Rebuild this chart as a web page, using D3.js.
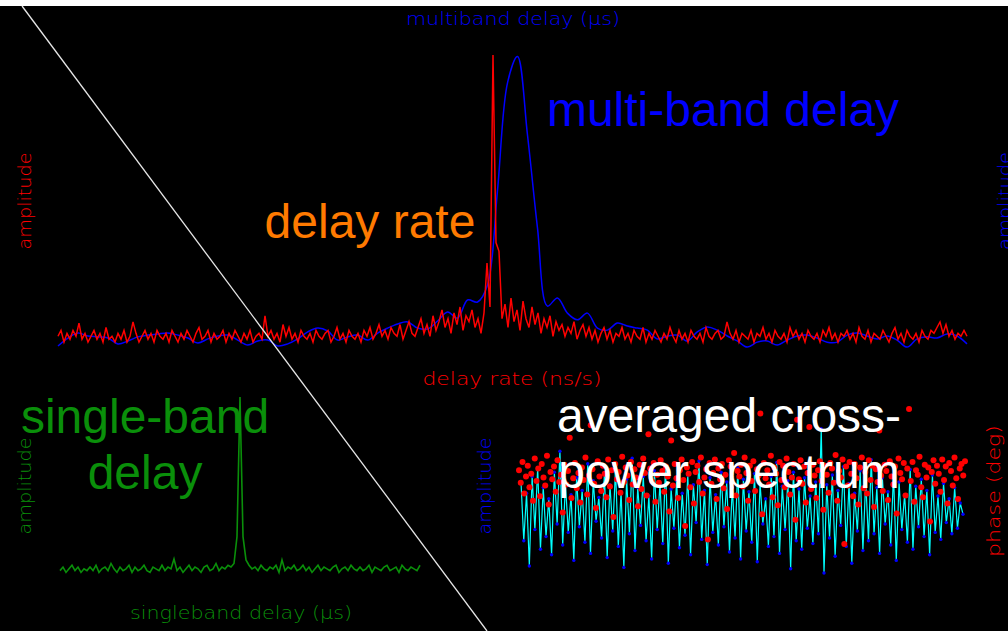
<!DOCTYPE html>
<html>
<head>
<meta charset="utf-8">
<script src="https://cdn.jsdelivr.net/npm/d3@7"></script>
<style>
html, body { margin: 0; padding: 0; background: #000; overflow: hidden; }
</style>
</head>
<body>
<script>
// delay rate amplitude (red), evenly spaced rate bins
var rateAmp = [
  0.04,0.06,0.02,0.05,0.03,0.06,0.04,0.085,0.03,0.05,
  0.02,0.04,0.06,0.03,0.05,0.02,0.07,0.03,0.04,0.02,
  0.05,0.03,0.06,0.02,0.04,0.089,0.05,0.02,0.04,0.06,
  0.03,0.05,0.02,0.06,0.04,0.03,0.05,0.02,0.06,0.04,
  0.02,0.05,0.03,0.06,0.04,0.02,0.05,0.07,0.03,0.04,
  0.06,0.02,0.05,0.03,0.04,0.06,0.02,0.05,0.03,0.06,
  0.04,0.02,0.05,0.03,0.06,0.02,0.04,0.05,0.03,0.11,
  0.04,0.06,0.03,0.05,0.02,0.08,0.04,0.07,0.03,0.05,
  0.02,0.06,0.04,0.03,0.05,0.02,0.06,0.04,0.03,0.05,
  0.06,0.02,0.04,0.07,0.03,0.05,0.02,0.06,0.04,0.03,
  0.05,0.02,0.06,0.04,0.07,0.03,0.05,0.08,0.04,0.06,
  0.03,0.07,0.05,0.04,0.08,0.03,0.06,0.09,0.05,0.04,
  0.07,0.10,0.05,0.08,0.04,0.11,0.06,0.09,0.13,0.07,
  0.10,0.05,0.12,0.08,0.14,0.06,0.11,0.09,0.13,0.07,
  0.10,0.05,0.12,0.29,0.14,1.00,0.36,0.33,0.10,0.15,
  0.07,0.17,0.09,0.13,0.06,0.16,0.10,0.07,0.14,0.08,
  0.12,0.05,0.10,0.07,0.11,0.04,0.09,0.06,0.08,0.04,
  0.07,0.05,0.09,0.03,0.06,0.08,0.04,0.07,0.03,0.06,
  0.02,0.05,0.07,0.03,0.06,0.02,0.05,0.04,0.07,0.03,
  0.05,0.02,0.06,0.04,0.03,0.07,0.02,0.05,0.03,0.06,
  0.04,0.02,0.05,0.03,0.07,0.04,0.02,0.06,0.03,0.05,
  0.02,0.06,0.04,0.03,0.05,0.02,0.07,0.04,0.03,0.05,
  0.06,0.03,0.04,0.089,0.05,0.03,0.06,0.02,0.05,0.04,
  0.03,0.06,0.02,0.05,0.04,0.07,0.03,0.05,0.02,0.06,
  0.04,0.03,0.05,0.02,0.07,0.04,0.06,0.03,0.05,0.02,
  0.06,0.04,0.03,0.05,0.02,0.06,0.04,0.07,0.03,0.05,
  0.02,0.05,0.04,0.06,0.03,0.05,0.02,0.07,0.04,0.03,
  0.06,0.02,0.05,0.04,0.03,0.06,0.04,0.02,0.05,0.07,
  0.03,0.05,0.02,0.06,0.04,0.03,0.05,0.02,0.06,0.04,
  0.03,0.06,0.05,0.07,0.089,0.05,0.08,0.04,0.06,0.03,
  0.05,0.04,0.06,0.04
];

// multiband delay amplitude (blue)
var mbdAmp = [
  0.007,0.034,0.051,0.041,0.038,0.034,0.014,0.024,0.038,0.044,
  0.048,0.051,0.044,0.034,0.017,0.031,0.041,0.044,0.027,0.010,
  0.024,0.027,0.007,0.014,0.031,0.055,0.068,0.058,0.027,0.038,
  0.044,0.027,0.051,0.068,0.082,0.089,0.068,0.065,0.092,0.123,
  0.102,0.164,0.157,0.215,0.539,0.905,0.995,0.727,0.410,0.143,
  0.171,0.119,0.096,0.119,0.068,0.061,0.085,0.075,0.068,0.061,
  0.031,0.041,0.044,0.024,0.055,0.072,0.061,0.041,0.024,0.003,
  0.020,0.024,0.010,0.027,0.041,0.044,0.034,0.020,0.020,0.044,
  0.051,0.041,0.031,0.041,0.027,0.003,0.031,0.038,0.034,0.048,
  0.041,0.014
];

// singleband delay amplitude (green)
var sbdAmp = [
  0.03,0.05,0.02,0.04,0.06,0.03,0.05,0.02,0.04,0.03,
  0.05,0.03,0.06,0.02,0.04,0.05,0.03,0.07,0.04,0.02,
  0.05,0.03,0.04,0.06,0.02,0.05,0.03,0.04,0.06,0.03,
  0.02,0.05,0.04,0.03,0.06,0.03,0.05,0.04,0.095,0.03,
  0.05,0.02,0.04,0.06,0.03,0.05,0.04,0.02,0.05,0.06,
  0.03,0.04,0.07,0.03,0.05,0.04,0.06,0.05,0.07,0.22,
  1.00,0.22,0.09,0.06,0.04,0.05,0.03,0.06,0.04,0.03,
  0.05,0.04,0.06,0.02,0.09,0.03,0.05,0.04,0.06,0.03,
  0.04,0.06,0.03,0.05,0.02,0.04,0.06,0.03,0.05,0.04,
  0.03,0.05,0.06,0.02,0.04,0.05,0.03,0.06,0.04,0.03,
  0.05,0.03,0.04,0.06,0.02,0.05,0.04,0.03,0.05,0.06,
  0.03,0.04,0.05,0.02,0.06,0.04,0.03,0.05,0.04,0.03,
  0.06
];

// cross-power spectrum: amplitude per channel
var specAmp = [
  0.70,0.28,0.62,0.10,0.74,0.36,0.80,0.22,0.66,0.31,
  0.58,0.18,0.77,0.40,0.92,0.25,0.69,0.34,0.61,0.14,
  0.73,0.38,0.64,0.27,0.83,0.19,0.71,0.42,0.59,0.30,
  0.76,0.16,0.68,0.35,0.79,0.24,0.63,0.09,0.72,0.33,
  0.87,0.21,0.66,0.39,0.74,0.28,0.60,0.15,0.78,0.36,
  0.69,0.26,0.82,0.12,0.65,0.37,0.71,0.23,0.62,0.32,
  0.75,0.18,0.68,0.41,0.85,0.29,0.64,0.11,0.73,0.34,
  0.61,0.25,0.77,0.38,0.70,0.20,0.66,0.30,0.80,0.15,
  0.72,0.35,0.63,0.27,0.76,0.13,0.69,0.40,0.58,0.24,
  0.74,0.31,0.84,0.19,0.67,0.36,0.71,0.08,0.77,0.28,
  0.65,0.22,0.73,0.37,0.60,0.26,0.70,0.33,1.08,0.05,
  0.68,0.30,0.75,0.17,0.64,0.39,0.81,0.24,0.69,0.12,
  0.62,0.35,0.78,0.21,0.71,0.28,0.86,0.33,0.66,0.19,
  0.73,0.40,0.63,0.25,0.76,0.14,0.70,0.36,0.61,0.27,
  0.79,0.22,0.67,0.38,0.72,0.31,0.64,0.18,0.75,0.34,
  0.60,0.29,0.69,0.41,0.58,0.33,0.66,0.37,0.55,0.47
];

// cross-power spectrum: phase (deg)
var specPhase = [
  22,8,31,-4,15,27,3,18,-12,35,10,24,-7,29,14,5,
  38,-16,20,12,26,-2,33,9,17,-25,28,6,21,58,-9,13,
  30,2,19,-14,25,11,36,-5,16,72,23,7,-20,32,15,-1,
  27,18,-8,34,4,22,-30,29,12,20,-3,37,9,25,16,-11,
  31,6,23,14,-18,28,1,35,19,-6,62,24,10,30,-13,17,
  8,33,21,-2,26,15,-24,55,5,29,13,-9,22,34,11,-40,
  25,18,3,31,-15,20,27,9,36,-4,14,23,-55,30,7,19,
  34,-10,24,12,29,2,17,-21,33,26,8,41,-6,21,15,28,
  4,36,19,-12,27,10,32,-1,23,16,85,-27,30,13,22,6,
  38,-8,25,18,-17,31,11,27,3,35,20,-5,14,29,-33,78,
  12,33,7,26,-14,19,70,1,28,16,-9,22,32,10,-22,27,
  17,-3,30,24,8,39,-12,21,14,34,-60,26,5,31,18,-7,
  29,13,-16,25,36,2,20,-4,33,11,27,-19,23,9,66,16,
  -1,28,21,-11,32,15,6,26,-26,35,19,12,30,-6,24,90,
  10,31,-13,22,17,37,3,-8,28,14,25,-35,20,33,7,27,
  18,-2,34,11,26,-15,30,21,5,36,13,-10,24,29,16,32
];

var w = 1008, h = 631;
var svg = d3.select("body").append("svg")
  .attr("width", w).attr("height", h).style("display", "block");

svg.append("rect").attr("width", w).attr("height", h).attr("fill", "#000");
svg.append("rect").attr("width", w).attr("height", 6).attr("fill", "#fff");

var thin = "'DejaVu Sans', sans-serif";
var big = "'Liberation Sans', Arial, sans-serif";

// ---- top panel: delay rate + multiband delay
var yTop = d3.scaleLinear().domain([0, 1]).range([348, 55]);
var xMbd = d3.scaleLinear().domain([0, mbdAmp.length - 1]).range([58, 967]);
var xRate = d3.scaleLinear().domain([0, rateAmp.length - 1]).range([58, 967]);

svg.append("path")
  .attr("d", d3.line().x(function (d, i) { return xMbd(i); })
    .y(function (d) { return yTop(d); }).curve(d3.curveCatmullRom)(mbdAmp))
  .attr("fill", "none").attr("stroke", "#0000ff").attr("stroke-width", 1.5);

svg.append("path")
  .attr("d", d3.line().x(function (d, i) { return xRate(i); })
    .y(function (d) { return yTop(d); })(rateAmp))
  .attr("fill", "none").attr("stroke", "#ff0000").attr("stroke-width", 1.5);

// ---- bottom left: singleband delay
var ySbd = d3.scaleLinear().domain([0, 1]).range([576, 397]);
var xSbd = d3.scaleLinear().domain([0, sbdAmp.length - 1]).range([60, 420]);

svg.append("path")
  .attr("d", d3.line().x(function (d, i) { return xSbd(i); })
    .y(function (d) { return ySbd(d); })(sbdAmp))
  .attr("fill", "none").attr("stroke", "#0a8f0a").attr("stroke-width", 1.6);

// ---- bottom right: cross-power spectrum
var xSpec = d3.scaleLinear().domain([0, specAmp.length - 1]).range([521, 963]);
var xPhase = d3.scaleLinear().domain([0, specPhase.length - 1]).range([519, 965]);
var ySpec = d3.scaleLinear().domain([0, 1]).range([580, 440]);
var yPhase = d3.scaleLinear().domain([-100, 100]).range([580, 400]);

svg.append("path")
  .attr("d", d3.line().x(function (d, i) { return xSpec(i); })
    .y(function (d) { return ySpec(d); })(specAmp))
  .attr("fill", "none").attr("stroke", "#00ffff").attr("stroke-width", 1.2);

svg.selectAll("circle.amp").data(specAmp).enter().append("circle")
  .attr("class", "amp")
  .attr("cx", function (d, i) { return xSpec(i); })
  .attr("cy", function (d) { return ySpec(d); })
  .attr("r", 1.7).attr("fill", "#0000ff");

svg.selectAll("circle.ph").data(specPhase).enter().append("circle")
  .attr("class", "ph")
  .attr("cx", function (d, i) { return xPhase(i); })
  .attr("cy", function (d) { return yPhase(d); })
  .attr("r", 3).attr("fill", "#ff0000");

// ---- diagonal separator
svg.append("line")
  .attr("x1", 22).attr("y1", 6).attr("x2", 487).attr("y2", 631)
  .attr("stroke", "#e6e6e6").attr("stroke-width", 1.3);

// ---- axis titles (thin plotting font)
function label(txt, x, y, len, color, rot) {
  var t = svg.append("text")
    .attr("text-anchor", "middle")
    .attr("font-family", thin).attr("font-size", 18).attr("font-weight", 300)
    .attr("fill", color)
    .attr("textLength", len).attr("lengthAdjust", "spacingAndGlyphs")
    .text(txt);
  if (rot) t.attr("transform", "translate(" + x + "," + y + ") rotate(-90)");
  else t.attr("x", x).attr("y", y);
}
label("multiband delay (\u03bcs)", 513, 25, 214, "#0000ff");
label("delay rate (ns/s)", 512, 385, 179, "#ff0000");
label("singleband delay (\u03bcs)", 241, 619, 222, "#0a8f0a");
label("amplitude", 31, 201, 97, "#ff0000", true);
label("amplitude", 1011, 201, 98, "#0000ff", true);
label("amplitude", 31, 486, 97, "#0a8f0a", true);
label("amplitude", 491, 486, 97, "#0000ff", true);
label("phase (deg)", 1000, 491, 132, "#ff0000", true);

// ---- big annotations
function note(lines, x, y0, color) {
  lines.forEach(function (s, k) {
    svg.append("text")
      .attr("x", x).attr("y", y0 + k * 56)
      .attr("text-anchor", "middle")
      .attr("font-family", big).attr("font-size", 48)
      .attr("fill", color).text(s);
  });
}
note(["multi-band delay"], 723, 126, "#0000ff");
note(["delay rate"], 370, 238, "#ff7a00");
note(["single-band", "delay"], 145, 433, "#0a8f0a");
note(["averaged cross-", "power spectrum"], 729, 432, "#ffffff");
</script>
</body>
</html>
